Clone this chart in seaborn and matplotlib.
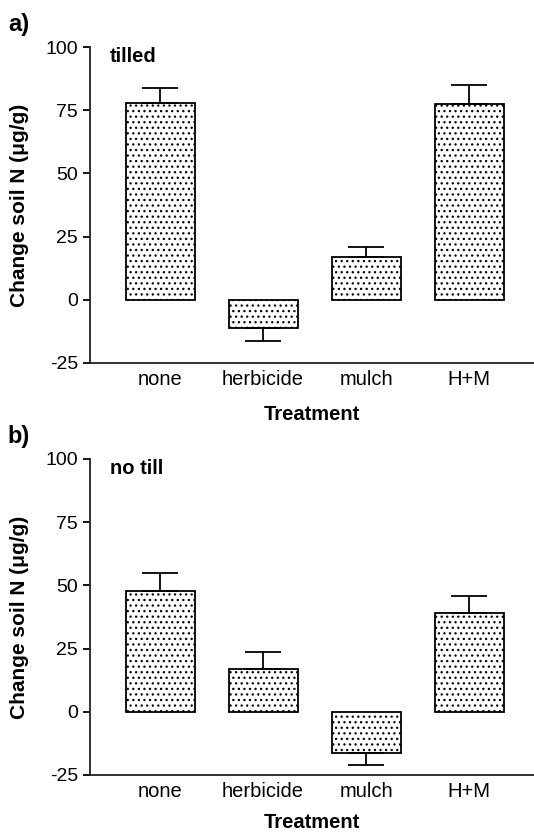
import numpy as np
import matplotlib
matplotlib.use("Agg")
import matplotlib.pyplot as plt
import seaborn as sns

# --- data ---
treatments = ["none", "herbicide", "mulch", "H+M"]

tilled_mean = [78.0, -11.3, 16.8, 77.6]
tilled_err = [5.7, 4.9, 4.1, 7.2]

notill_mean = [47.8, 17.1, -16.4, 39.1]
notill_err = [7.1, 6.6, 4.6, 6.7]

panel_tags = ["a)", "b)"]
panel_titles = ["tilled", "no till"]
y_ticks = [-25, 0, 25, 50, 75, 100]

# --- style ---
sns.set_theme(style="ticks")
plt.rcParams["font.family"] = ["Liberation Sans", "DejaVu Sans"]
plt.rcParams["axes.unicode_minus"] = False
plt.rcParams["hatch.linewidth"] = 0.9
plt.rcParams["hatch.color"] = "black"
plt.rcParams["text.color"] = "black"
plt.rcParams["axes.labelcolor"] = "black"
plt.rcParams["xtick.color"] = "black"
plt.rcParams["ytick.color"] = "black"

fig = plt.figure(figsize=(5.34, 8.35), dpi=100)
ax_a = fig.add_axes([0.1685, 0.5653, 0.8315, 0.3784])
ax_b = fig.add_axes([0.1685, 0.0719, 0.8315, 0.3784])


def draw_panel(ax, means, errs, tag, title, xlabel_y):
    sns.barplot(x=treatments, y=means, ax=ax, color="white",
                edgecolor="black", linewidth=1.3, width=0.67,
                errorbar=None, saturation=1)
    for p in ax.patches:
        p.set_hatch("...")

    # one-sided error bars, pointing away from zero
    for i, (m, e) in enumerate(zip(means, errs)):
        yerr = [[0], [e]] if m >= 0 else [[e], [0]]
        ax.errorbar(i, m, yerr=yerr, fmt="none", ecolor="black",
                    elinewidth=1.3, capsize=13, capthick=1.3, zorder=1)

    ax.set_ylim(-25, 100)
    ax.set_xlim(-0.68, 3.63)
    ax.set_yticks(y_ticks)
    ax.tick_params(axis="y", length=5, width=1.3, pad=3.5, labelsize=14)
    ax.tick_params(axis="x", length=0, pad=5, labelsize=14.5)
    for s in ["top", "right"]:
        ax.spines[s].set_visible(False)
    for s in ["left", "bottom"]:
        ax.spines[s].set_linewidth(1.3)
        ax.spines[s].set_color("#222222")

    ax.set_ylabel("Change soil N (\u03bcg/g)", fontsize=15, fontweight="bold")
    ax.yaxis.set_label_coords(-0.137, 0.5)
    ax.set_xlabel("Treatment", fontsize=14.5, fontweight="bold")
    ax.xaxis.set_label_coords(0.5, xlabel_y)

    ax.text(0.045, 0.97, title, transform=ax.transAxes, fontsize=14.5,
            fontweight="bold", va="center", ha="left")
    ax.text(-0.185, 1.07, tag, transform=ax.transAxes, fontsize=17,
            fontweight="bold", va="center", ha="left")


draw_panel(ax_a, tilled_mean, tilled_err, panel_tags[0], panel_titles[0], -0.133)
draw_panel(ax_b, notill_mean, notill_err, panel_tags[1], panel_titles[1], -0.121)

fig.savefig("out.png", dpi=100)
